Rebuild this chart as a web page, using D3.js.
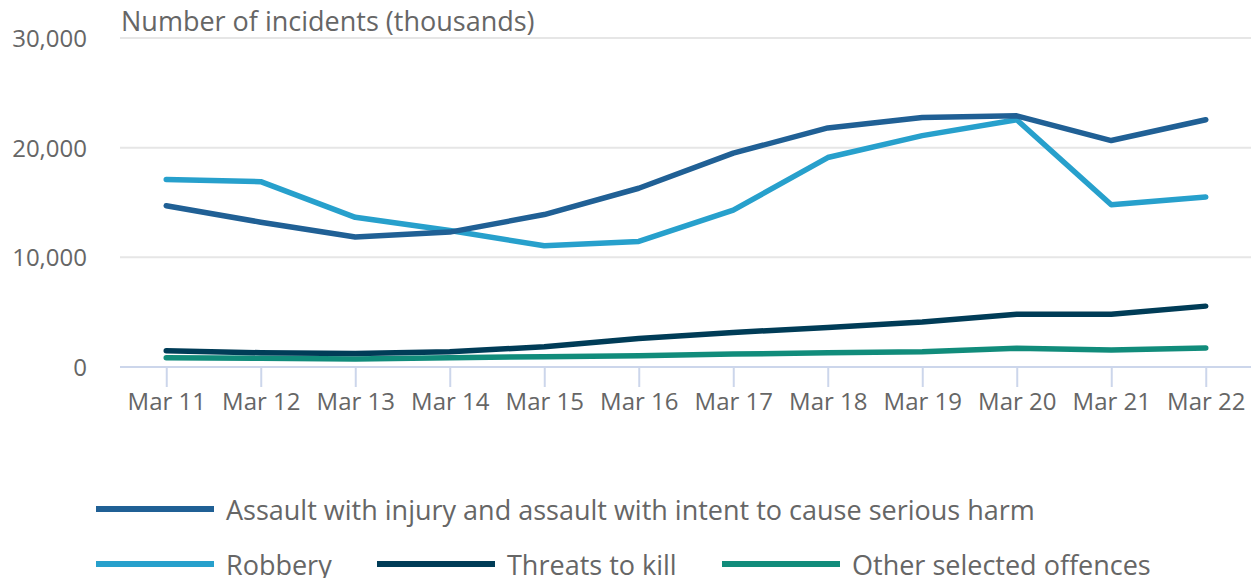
<!DOCTYPE html>
<html>
<head>
<meta charset="utf-8">
<script src="https://cdn.jsdelivr.net/npm/d3@7"></script>
<style>
  body { margin: 0; background: #fff; }
  svg { display: block; font-family: "Open Sans", sans-serif; }
</style>
</head>
<body>
<div id="chart"></div>
<script>
// categories and series values
const months = ["Mar 11","Mar 12","Mar 13","Mar 14","Mar 15","Mar 16","Mar 17","Mar 18","Mar 19","Mar 20","Mar 21","Mar 22"];

const assault  = [14700, 13200, 11850, 12300, 13900, 16300, 19500, 21800, 22750, 22900, 20650, 22550];
const robbery  = [17100, 16900, 13650, 12450, 11050, 11450, 14300, 19100, 21100, 22550, 14800, 15500];
const threats  = [1480, 1300, 1240, 1390, 1850, 2600, 3150, 3600, 4100, 4800, 4800, 5550];
const other    = [850, 790, 730, 850, 940, 1030, 1180, 1300, 1400, 1700, 1550, 1730];

const yTicks = [0, 10000, 20000, 30000];

const seriesNames = [
  "Assault with injury and assault with intent to cause serious harm",
  "Robbery",
  "Threats to kill",
  "Other selected offences"
];
const seriesColors = ["#206095", "#27a0cc", "#003c57", "#118c7b"];

const series = [assault, robbery, threats, other].map((vals, i) => ({
  name: seriesNames[i],
  color: seriesColors[i],
  values: vals.map((v, j) => ({ month: months[j], value: v }))
}));

const W = 1251, H = 578;
const svg = d3.select("#chart").append("svg")
  .attr("width", W)
  .attr("height", H);

const x = d3.scalePoint().domain(months).range([119, 1253]).padding(0.5);
const y = d3.scaleLinear().domain([0, 30000]).range([367, 38]);

// gridlines
svg.append("g")
  .selectAll("line")
  .data(yTicks.filter(d => d > 0))
  .join("line")
  .attr("x1", 120).attr("x2", W)
  .attr("y1", d => y(d)).attr("y2", d => y(d))
  .attr("stroke", "#e6e6e6")
  .attr("stroke-width", 2);

// y labels
svg.append("g")
  .selectAll("text")
  .data(yTicks)
  .join("text")
  .attr("x", 87)
  .attr("y", d => y(d) + 9)
  .attr("text-anchor", "end")
  .attr("fill", "#666")
  .attr("font-size", 24)
  .text(d => d3.format(",")(d));

// title
svg.append("text")
  .attr("x", 121)
  .attr("y", 31)
  .attr("fill", "#666")
  .attr("font-size", 27)
  .text("Number of incidents (thousands)");

// x axis
const xAxis = svg.append("g")
  .attr("transform", `translate(0,${y(0)})`)
  .call(d3.axisBottom(x).tickSize(20).tickPadding(6));
xAxis.select(".domain").attr("d", `M120,0H${W}`).attr("stroke", "#ccd6eb").attr("stroke-width", 2);
xAxis.selectAll(".tick line").attr("stroke", "#ccd6eb").attr("stroke-width", 2);
xAxis.selectAll(".tick text")
  .attr("fill", "#666")
  .attr("font-size", 24)
  .attr("font-family", "Open Sans, sans-serif");

// lines
const line = d3.line()
  .x(d => x(d.month))
  .y(d => y(d.value));

svg.append("g")
  .selectAll("path")
  .data(series.slice().reverse())
  .join("path")
  .attr("d", d => line(d.values))
  .attr("fill", "none")
  .attr("stroke", d => d.color)
  .attr("stroke-width", 5.5)
  .attr("stroke-linejoin", "round")
  .attr("stroke-linecap", "round");

// legend
const legendPos = [
  { x: 96, y: 509 },
  { x: 96, y: 564 },
  { x: 377, y: 564 },
  { x: 722, y: 564 }
];

const legend = svg.append("g")
  .selectAll("g")
  .data(series)
  .join("g")
  .attr("transform", (d, i) => `translate(${legendPos[i].x},${legendPos[i].y})`);

legend.append("line")
  .attr("x1", 0).attr("x2", 118)
  .attr("stroke", d => d.color)
  .attr("stroke-width", 6);

legend.append("text")
  .attr("x", 130)
  .attr("y", 11)
  .attr("fill", "#666")
  .attr("font-size", 27)
  .text(d => d.name);
</script>
</body>
</html>
